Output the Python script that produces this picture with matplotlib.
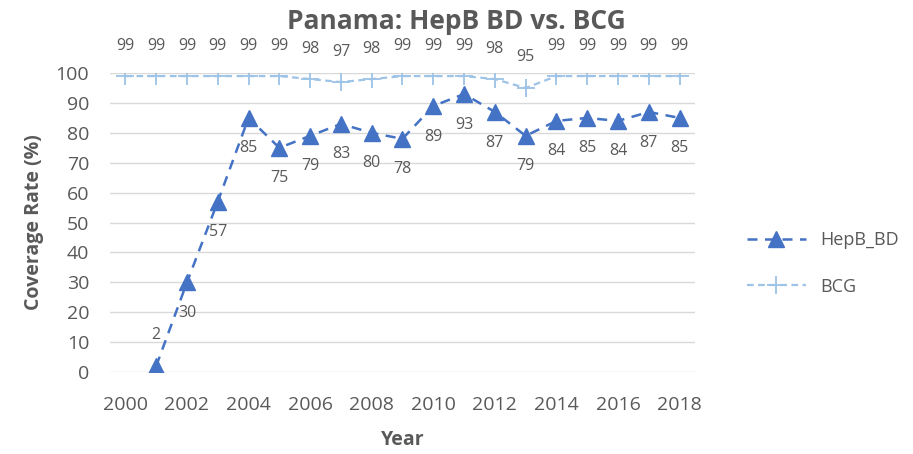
import matplotlib
matplotlib.use("Agg")
import matplotlib.pyplot as plt

years_hepb = [2001, 2002, 2003, 2004, 2005, 2006, 2007, 2008, 2009, 2010,
              2011, 2012, 2013, 2014, 2015, 2016, 2017, 2018]
hepb_bd = [2, 30, 57, 85, 75, 79, 83, 80, 78, 89, 93, 87, 79, 84, 85, 84, 87, 85]
years_bcg = list(range(2000, 2019))
bcg = [99, 99, 99, 99, 99, 99, 98, 97, 98, 99, 99, 99, 98, 95, 99, 99, 99, 99, 99]
x_ticks = list(range(2000, 2019, 2))
y_ticks = list(range(0, 101, 10))

plt.rcParams['font.family'] = ['Open Sans', 'DejaVu Sans']
gray = '#595959'
c_hepb = '#4472C4'
c_bcg = '#9DC3E6'

fig = plt.figure(figsize=(9.13, 4.54), dpi=100)
ax = fig.add_axes([0.1205, 0.1806, 0.6407, 0.6584])

ax.plot(years_hepb, hepb_bd, color=c_hepb, ls=(0, (4, 3)), lw=1.8,
        marker='^', ms=11, mfc=c_hepb, mec=c_hepb, label='HepB_BD', zorder=3)
ax.plot(years_bcg, bcg, color=c_bcg, ls=(0, (3, 2)), lw=1.6,
        marker='+', ms=13, mew=1.3, label='BCG', zorder=3)

for x, y in zip(years_hepb, hepb_bd):
    dy = 22 if y < 10 else -22
    ax.annotate(str(y), (x, y), xytext=(0, dy), textcoords='offset points',
                ha='center', va='center', fontsize=11.5, color=gray)
for x, y in zip(years_bcg, bcg):
    ax.annotate(str(y), (x, y), xytext=(0, 22), textcoords='offset points',
                ha='center', va='center', fontsize=11.5, color=gray)

ax.set_xlim(1999.5, 2018.5)
ax.set_ylim(0, 100)
ax.set_xticks(x_ticks)
ax.set_yticks(y_ticks)
ax.grid(axis='y', color='#D9D9D9', lw=1)
ax.set_axisbelow(True)
for s in ax.spines.values():
    s.set_visible(False)
ax.tick_params(axis='y', length=0, labelsize=14, colors=gray, pad=15)
ax.tick_params(axis='x', length=0, labelsize=14, colors=gray, pad=17)

ax.set_xlabel('Year', fontsize=14, fontweight='bold', color=gray, labelpad=12)
ax.set_ylabel('Coverage Rate (%)', fontsize=14, fontweight='bold', color=gray, labelpad=8)
fig.text(0.50, 0.953, 'Panama: HepB BD vs. BCG', ha='center', va='center',
         fontsize=19, fontweight='bold', color=gray)

leg = fig.legend(loc='center left', bbox_to_anchor=(0.8, 0.42), frameon=False,
                 fontsize=13, handlelength=3.3, labelspacing=1.6)
for t in leg.get_texts():
    t.set_color(gray)

fig.savefig('out.png', dpi=100)
